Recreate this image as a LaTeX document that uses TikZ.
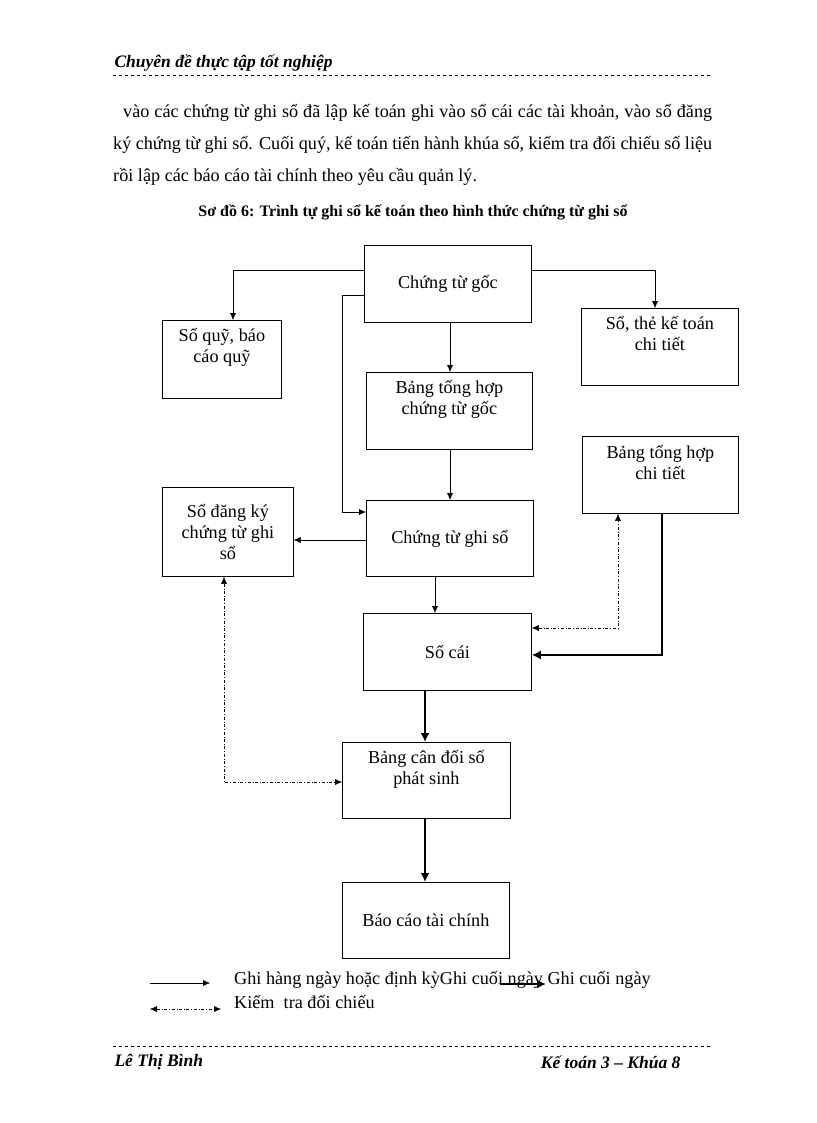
\documentclass[tikz,border=0pt]{standalone}
\usepackage{fontspec}
\setmainfont{Liberation Serif}
\usetikzlibrary{arrows.meta}
\begin{document}
\begin{tikzpicture}
  [x=1pt,y=-1pt,every node/.style={font=\fontsize{18.2}{21}\selectfont},
   box/.style={draw,thick,minimum width=167pt,minimum height=77pt,align=center,anchor=north west,inner sep=0pt},
   daily/.style={-{Latex[length=7pt,width=6pt]}},
   final/.style={line width=1.8pt,-{Latex[length=9pt,width=9pt]}},
   check/.style={dash dot,{Latex[length=7pt,width=6pt]}-{Latex[length=7pt,width=6pt]}}]
  \useasboundingbox (0,0) rectangle (816,1123);

  % header and footer
  \node[anchor=west,font=\fontsize{17.5}{21}\selectfont\bfseries\itshape] (head) at (111,63) {Chuyên đề thực tập tốt nghiệp};
  \draw[dashed,thick] (113,75) -- (712,75);
  \draw[dashed,thick] (113,1046) -- (712,1046);
  \node[anchor=west,font=\fontsize{17.5}{21}\selectfont\bfseries\itshape] (name) at (111,1062) {Lê Thị Bình};
  \node[anchor=east,font=\fontsize{17.5}{21}\selectfont\bfseries\itshape] (cls) at (684,1062) {Kế toán 3 – Khúa 8};

  % paragraph
  \node[anchor=north west,text width=599pt,align=justify,inner sep=0pt,font=\fontsize{18.2}{32}\selectfont] (para) at (113,104)
    {\hspace*{10pt}vào các chứng từ ghi sổ đã lập kế toán ghi vào sổ cái các tài khoản, vào sổ đăng ký chứng từ ghi sổ. Cuối quý, kế toán tiến hành khúa sổ, kiểm tra đối chiếu số liệu rồi lập các báo cáo tài chính theo yêu cầu quản lý.};
  \node[font=\fontsize{16}{20}\selectfont\bfseries] (title) at (413,212) {Sơ đồ 6: Trình tự ghi sổ kế toán theo hình thức chứng từ ghi sổ};

  % boxes
  \node[box] (goc) at (364,245) {Chứng từ gốc};
  \node[box,minimum width=119pt,minimum height=78pt] (quy) at (162,320) {Sổ quỹ, báo\\cáo quỹ\\[6pt]};
  \node[box,minimum width=157pt] (the) at (581,308) {Sổ, thẻ kế toán\\chi tiết\\[6pt]};
  \node[box,minimum width=166pt] (thgoc) at (366,372) {Bảng tổng hợp\\chứng từ gốc\\[6pt]};
  \node[box,minimum width=156pt] (thct) at (582,436) {Bảng tổng hợp\\chi tiết\\[4pt]};
  \node[box,minimum width=131pt,minimum height=89pt] (dk) at (162,487) {Sổ đăng ký\\chứng từ ghi\\sổ};
  \node[box,minimum width=167pt,minimum height=76pt] (ghiso) at (366,500) {Chứng từ ghi sổ};
  \node[box,minimum width=168pt] (cai) at (363,613) {Sổ cái};
  \node[box,minimum width=168pt,minimum height=76pt] (cdps) at (342,742) {Bảng cân đối số\\phát sinh\\[4pt]};
  \node[box,minimum width=167pt,minimum height=76pt] (bctc) at (342,882) {Báo cáo tài chính};

  % corner points
  \coordinate (c1) at (233,270);
  \coordinate (c2) at (655,270);
  \coordinate (c3) at (342,295);
  \coordinate (c4) at (342,512);
  \coordinate (c5) at (662,655);
  \coordinate (c6) at (618,628);
  \coordinate (c7) at (224,782);

  % connectors
  \draw[daily] (goc.west |- c1) -| (quy.north -| c1);
  \draw[daily] (goc.east |- c2) -| (the.north -| c2);
  \draw[daily] (goc.south -| 450,0) -- (thgoc.north -| 450,0);
  \draw[daily] (goc.west |- c3) -- (c3) -- (c4) -- (ghiso.west |- c4);
  \draw[daily] (thgoc.south -| 450,0) -- (ghiso.north -| 450,0);
  \draw[daily] (ghiso.west |- 0,540) -- (dk.east |- 0,540);
  \draw[daily] (ghiso.south -| 435,0) -- (cai.north -| 435,0);
  \draw[final] (thct.south -| c5) -- (c5) -- (cai.east |- c5);
  \draw[check] (cai.east |- c6) -- (c6) -- (thct.south -| c6);
  \draw[final] (cai.south -| 425,0) -- (cdps.north -| 425,0);
  \draw[check] (dk.south -| c7) -- (c7) -- (cdps.west |- c7);
  \draw[final] (cdps.south -| 425,0) -- (bctc.north -| 425,0);

  % legend
  \coordinate (l1) at (150,983);
  \coordinate (l2) at (210,983);
  \coordinate (l3) at (500,984);
  \coordinate (l4) at (546,984);
  \coordinate (l5) at (150,1009);
  \coordinate (l6) at (221,1009);
  \draw[daily] (l1) -- (l2);
  \draw[check] (l5) -- (l6);
  \node[anchor=west,inner sep=0pt] (leg1) at (234,980) {Ghi hàng ngày hoặc định kỳGhi cuối ngày Ghi cuối ngày};
  \draw[final] (l3) -- (l4);
  \node[anchor=west,inner sep=0pt] (leg2) at (234,1002) {Kiểm\ \ tra đối chiếu};
\end{tikzpicture}
\end{document}
